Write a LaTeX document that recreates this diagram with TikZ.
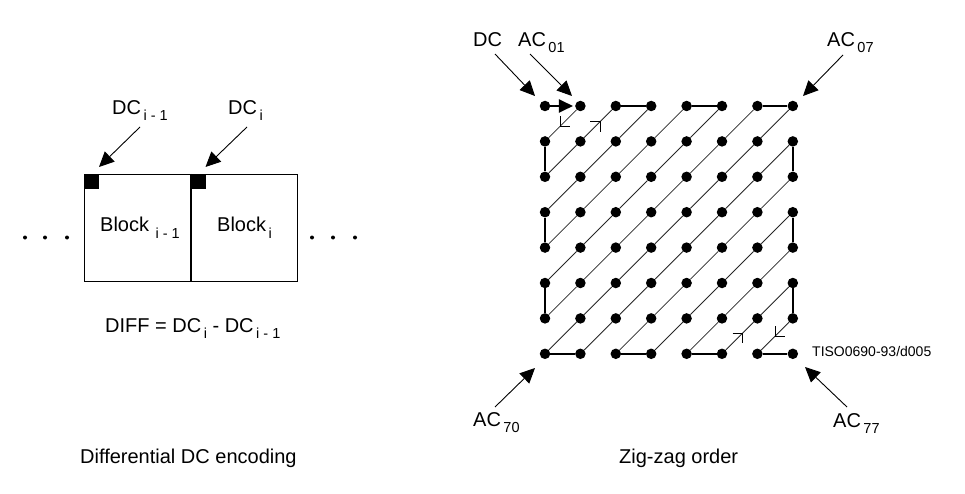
\documentclass[tikz,border=0pt]{standalone}
\usepackage{fontspec}
\setmainfont{Liberation Sans}
\usetikzlibrary{arrows.meta,calc}
\newcommand\sbx[1]{\kern2.5pt\raisebox{-6pt}{\fontsize{14.5}{15}\selectfont #1}}
\begin{document}
\begin{tikzpicture}[x=1pt,y=-1pt,
  lbl/.style={anchor=base west,inner sep=0pt,font=\fontsize{20}{23}\selectfont},
  small/.style={anchor=base west,inner sep=0pt,font=\fontsize{14}{16}\selectfont},
  dot/.style={circle,fill=black,inner sep=0pt,minimum size=10.5pt},
  ell/.style={circle,fill=black,inner sep=0pt,minimum size=4pt},
  diag/.style={line width=0.8pt,draw=black!85},
  thickedge/.style={line width=2.2pt},
  pointer/.style={line width=0.9pt,-{Triangle[length=15pt,width=14pt]}},
  marker/.style={line width=1.1pt},
  blk/.style={draw,line width=1.1pt,minimum width=106pt,minimum height=107pt,inner sep=0pt,anchor=north west},
  sq/.style={fill=black,minimum size=15pt,inner sep=0pt,anchor=north west},
]
\useasboundingbox (0,0) rectangle (965,494);

% ---------------- left: differential DC encoding
\node[blk] (b1) at (84,174) {};
\node[blk] (b2) at (190.5,174) {};
\draw[line width=2pt] (b2.north west) -- (b2.south west);
\node[sq] (s1) at (84,174) {};
\node[sq] (s2) at (190.5,174) {};

\node[lbl] (dcim1) at (112,115) {DC\sbx{i - 1}};
\node[lbl] (dci) at (228,115) {DC\sbx{i}};
\node[lbl] (blim1) at (100,232) {Block\sbx{ i - 1}};
\node[lbl] (bli) at (217,232) {Block\sbx{i}};
\node[lbl] (diff) at (105,332) {DIFF = DC\sbx{i} - DC\sbx{i - 1}};
\node[lbl] (cap1) at (80,463) {Differential DC encoding};

\coordinate (t1) at (140,127);
\coordinate (h1) at (99,167);
\coordinate (t2) at (247,127);
\coordinate (h2) at (205.5,167);
\draw[pointer] (t1) -- (h1);
\draw[pointer] (t2) -- (h2);

\foreach \x [count=\k] in {25,45,67} \node[ell] (el\k) at (\x,237.5) {};
\foreach \x [count=\k] in {312,333,355} \node[ell] (er\k) at (\x,237.5) {};

% ---------------- right: zig-zag order
\foreach \i in {0,...,7}
  \foreach \j in {0,...,7}
    \node[dot] (d\i\j) at ({545+35.4*\i},{106+35.4*\j}) {};

\foreach \i in {0,...,6}
  \foreach \j in {1,...,7}{
    \pgfmathtruncatemacro\ii{\i+1}
    \pgfmathtruncatemacro\jj{\j-1}
    \draw[diag] (d\i\j) -- (d\ii\jj);
  }

\draw[thickedge,-{Triangle[length=14pt,width=13pt]},shorten >=2pt] (d00) -- (d10);
\foreach \a/\b in {01/02,20/30,03/04,40/50,05/06,60/70,07/17,71/72,27/37,73/74,47/57,75/76,67/77}
  \draw[thickedge] (d\a) -- (d\b);

% direction markers
\coordinate (m1) at ($(d10)!0.57!(d01)$);
\coordinate (m2) at ($(d11)!0.56!(d20)$);
\coordinate (m3) at ($(d57)!0.58!(d66)$);
\coordinate (m4) at ($(d76)!0.5!(d67)$);
\draw[marker] (m1) ++(0,-10) -- (m1) -- ++(10,0);
\draw[marker] (m2) ++(-10,0) -- (m2) -- ++(0,10);
\draw[marker] (m3) ++(-10,0) -- (m3) -- ++(0,10);
\draw[marker] (m4) ++(0,-10) -- (m4) -- ++(10,0);

% labels and pointers
\node[lbl] (ldc) at (473,47) {DC};
\node[lbl] (lac01) at (518,47) {AC\sbx{01}};
\node[lbl] (lac07) at (827,47) {AC\sbx{07}};
\node[lbl] (lac70) at (473,426) {AC\sbx{70}};
\node[lbl] (lac77) at (833,427) {AC\sbx{77}};
\node[small] (tiso) at (812,356) {TISO0690-93/d005};
\node[lbl] (cap2) at (619,463) {Zig-zag order};

\coordinate (pdct) at (495,54);
\coordinate (pdch) at (535,96);
\coordinate (p01t) at (530,54);
\coordinate (p01h) at (572,96);
\coordinate (p07t) at (843,55);
\coordinate (p07h) at (803,96);
\coordinate (p70t) at (495,407);
\coordinate (p70h) at (535,368);
\coordinate (p77t) at (847,407);
\coordinate (p77h) at (805,367);
\draw[pointer] (pdct) -- (pdch);
\draw[pointer] (p01t) -- (p01h);
\draw[pointer] (p07t) -- (p07h);
\draw[pointer] (p70t) -- (p70h);
\draw[pointer] (p77t) -- (p77h);
\end{tikzpicture}
\end{document}
